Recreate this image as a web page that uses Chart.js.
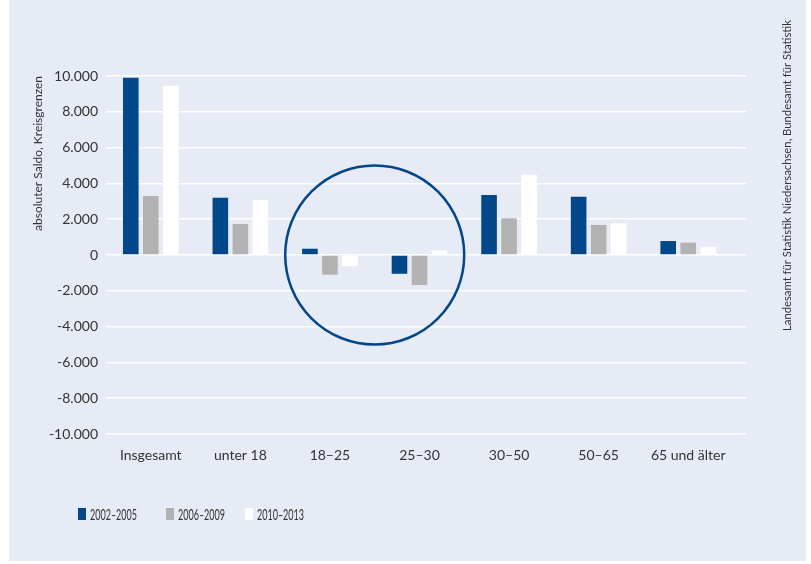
<!DOCTYPE html>
<html>
<head>
<meta charset="utf-8">
<script src="https://cdn.jsdelivr.net/npm/chart.js@4/dist/chart.umd.min.js"></script>
<style>
    body { margin: 0; background: #ffffff; }
    #panel { position: absolute; left: 9px; top: 0; width: 797px; height: 561px; background: #e7ebf5; }
    #wrap { position: absolute; left: 0; top: 0; width: 811px; height: 564px; }
</style>
</head>
<body>
<div id="panel"></div>
<div id="wrap"><canvas id="myChart" width="811" height="564"></canvas></div>
<script>
'use strict';

const categories = ['Insgesamt', 'unter 18', '18–25', '25–30', '30–50', '50–65', '65 und älter'];
const seriesNames = ['2002–2005', '2006–2009', '2010–2013'];
const values2002 = [9900, 3200, 350, -1050, 3350, 3250, 780];
const values2006 = [3300, 1730, -1100, -1680, 2050, 1680, 690];
const values2010 = [9450, 3070, -630, 260, 4490, 1770, 460];
const seriesColors = ['#02478a', '#b2b2b2', '#ffffff'];
const yTicks = [-10000, -8000, -6000, -4000, -2000, 0, 2000, 4000, 6000, 8000, 10000];
const sourceText = 'Landesamt für Statistik Niedersachsen, Bundesamt für Statistik';

const textColor = '#333333';
const fontFamily = "Lato, sans-serif";
// left edges of the legend items
const legendXs = [78, 166, 245];

// German thousands separator: 10.000
function formatNumber(v) {
    let s = Math.abs(v).toString().replace(/\B(?=(\d{3})+(?!\d))/g, '.');
    return (v < 0 ? '-' : '') + s;
}

// circle around the 18–25 / 25–30 groups
const circlePlugin = {
    id: 'circle',
    afterDatasetsDraw(chart) {
        const x = chart.scales.x;
        const y = chart.scales.y;
        const cx = (x.getPixelForValue(2) + x.getPixelForValue(3)) / 2;
        const cy = y.getPixelForValue(0);
        const r = cy - y.getPixelForValue(5000);
        const ctx = chart.ctx;
        ctx.save();
        ctx.beginPath();
        ctx.arc(cx, cy, r, 0, Math.PI * 2);
        ctx.strokeStyle = '#02478a';
        ctx.lineWidth = 2.5;
        ctx.stroke();
        ctx.restore();
    }
};

// legend at the lower left and the source note on the right
const extrasPlugin = {
    id: 'extras',
    afterDraw(chart) {
        const ctx = chart.ctx;
        ctx.save();
        ctx.font = '15px ' + fontFamily;
        ctx.textBaseline = 'middle';
        const legendY = 514;
        chart.data.datasets.forEach((ds, i) => {
            let lx = legendXs[i];
            ctx.fillStyle = ds.backgroundColor;
            ctx.fillRect(lx, legendY - 6, 8, 12);
            ctx.fillStyle = textColor;
            ctx.fillText(ds.label, lx + 12, legendY + 1, 47);
        });

        ctx.font = '12px ' + fontFamily;
        ctx.translate(787, 20);
        ctx.rotate(-Math.PI / 2);
        ctx.textAlign = 'right';
        ctx.fillText(sourceText, 0, 0, 311);
        ctx.restore();
    }
};

const canvasEl = document.getElementById('myChart');

new Chart(canvasEl, {
    type: 'bar',
    data: {
        labels: categories,
        datasets: [{
            label: seriesNames[0],
            data: values2002,
            backgroundColor: seriesColors[0]
        }, {
            label: seriesNames[1],
            data: values2006,
            backgroundColor: seriesColors[1]
        }, {
            label: seriesNames[2],
            data: values2010,
            backgroundColor: seriesColors[2]
        }]
    },
    options: {
        responsive: false,
        animation: false,
        categoryPercentage: 0.67,
        barPercentage: 0.78,
        layout: {
            padding: { top: 76, right: 65, bottom: 90, left: 0 }
        },
        plugins: {
            legend: { display: false },
            tooltip: { enabled: false }
        },
        scales: {
            x: {
                grid: { display: false, drawTicks: false },
                border: { display: false },
                ticks: {
                    color: textColor,
                    padding: 13,
                    font: { family: fontFamily, size: 14 }
                },
                afterFit: scale => { scale.height = 40; }
            },
            y: {
                min: -10000,
                max: 10000,
                afterBuildTicks: scale => {
                    scale.ticks = yTicks.map(v => ({ value: v }));
                },
                grid: { color: '#ffffff', lineWidth: 1.5, drawTicks: false },
                border: { display: false },
                ticks: {
                    color: textColor,
                    padding: 8,
                    font: { family: fontFamily, size: 14 },
                    callback: v => formatNumber(v)
                },
                title: {
                    display: true,
                    text: 'absoluter Saldo, Kreisgrenzen',
                    align: 'end',
                    color: textColor,
                    padding: { top: 31, bottom: 0 },
                    font: { family: fontFamily, size: 12 }
                },
                afterFit: scale => { scale.width = 106; }
            },
            // right-hand scale only carries the grid lines a bit past the last group
            y2: {
                position: 'right',
                min: -10000,
                max: 10000,
                afterBuildTicks: scale => {
                    scale.ticks = yTicks.map(v => ({ value: v }));
                },
                grid: { color: '#ffffff', lineWidth: 1.5, drawOnChartArea: false, drawTicks: true, tickLength: 13 },
                border: { display: false },
                ticks: { display: false }
            }
        }
    },
    plugins: [circlePlugin, extrasPlugin]
});
</script>
</body>
</html>
